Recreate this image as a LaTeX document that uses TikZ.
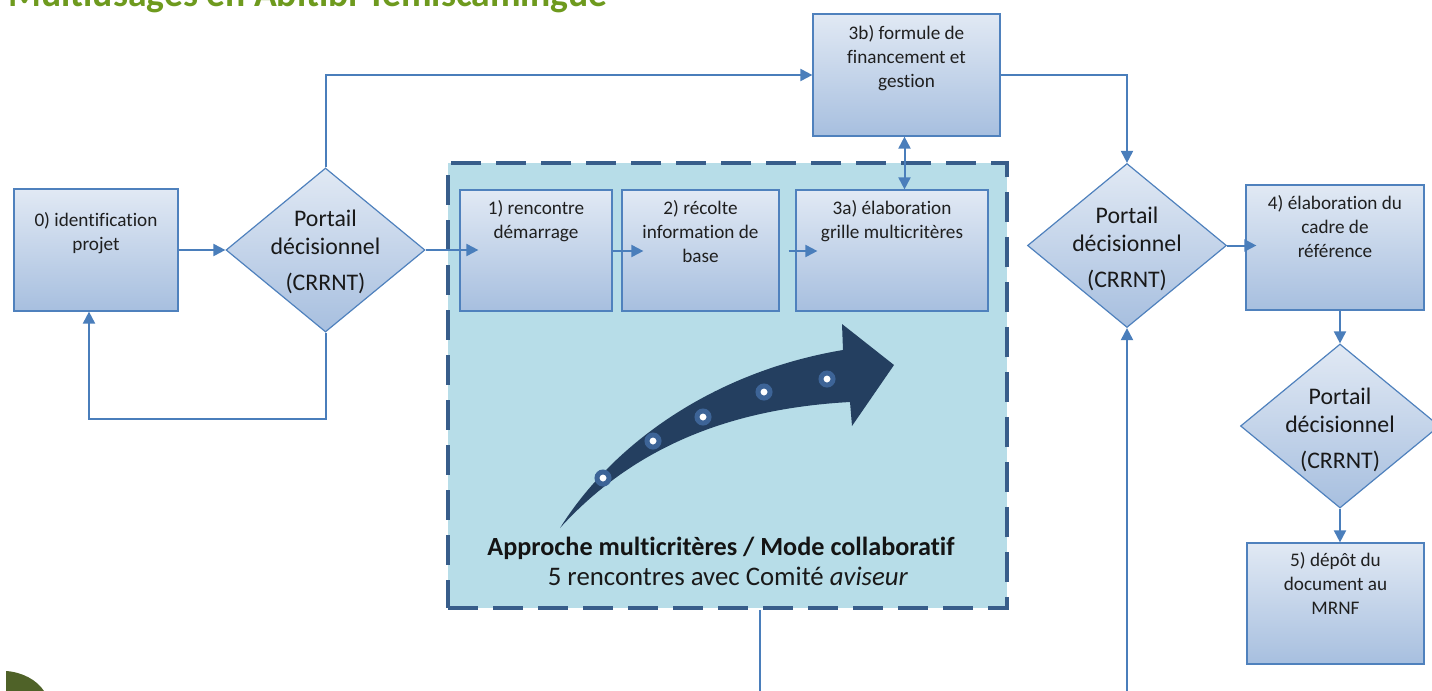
\documentclass[tikz,border=0pt]{standalone}
\usepackage{fontspec}
\setmainfont{Carlito}[Ligatures={NoCommon}]
\usetikzlibrary{arrows.meta,shapes.geometric,fit,calc}
\definecolor{boxtop}{HTML}{E1E9F4}
\definecolor{boxbot}{HTML}{A7BFDF}
\definecolor{boxline}{HTML}{4F81BD}
\definecolor{conncol}{HTML}{4A7EBB}
\definecolor{contfill}{HTML}{B7DDE8}
\definecolor{contline}{HTML}{385D8A}
\definecolor{navy}{HTML}{243F60}
\definecolor{dotring}{HTML}{3D6497}
\definecolor{titlegreen}{HTML}{6E9A1E}
\definecolor{leafgreen}{HTML}{4F6228}
\begin{document}
\begin{tikzpicture}[x=0.5pt,y=-0.5pt,
  box/.style={draw=boxline, line width=0.6pt, top color=boxtop, bottom color=boxbot, inner sep=0pt},
  gate/.style={diamond, draw=boxline, line width=0.6pt, top color=boxtop, bottom color=boxbot, inner sep=0pt, minimum width=99.5pt, minimum height=82pt},
  btxt/.style={anchor=base, align=center, font=\fontsize{9.6}{12}\selectfont, text=black!88, inner sep=0pt},
  gtxt/.style={anchor=base, align=center, font=\fontsize{11.9}{14.2}\selectfont, text=black!90, inner sep=0pt},
  conn/.style={draw=conncol, line width=1pt, -{Triangle[length=6pt,width=6pt]}},
  plain/.style={draw=conncol, line width=1pt},
  dotmark/.style={circle, fill=white, draw=dotring, line width=2.5pt, minimum size=6pt, inner sep=0pt}
]
\useasboundingbox (0,0) rectangle (1432,691);
% title (cut at top)
\node[anchor=base west, inner sep=0pt, text=titlegreen, font=\fontsize{18.8}{20}\selectfont\bfseries] (title) at (8,6) {Multiusages en Abitibi-Témiscamingue};
% leaf corner
\fill[leafgreen] (6,691) -- (6,671) .. controls (22,672) and (37,680) .. (44,691) -- cycle;

% container
\node[fit={(448,163) (1007,608)}, inner sep=0pt, fill=contfill, draw=contline, line width=2.2pt, dash pattern=on 15pt off 7.5pt] (cont) {};

% boxes
\node[box, fit={(14,189) (178,311)}] (b0) {};
\node[box, fit={(460,190) (612,311)}] (b1) {};
\node[box, fit={(622,190) (779,311)}] (b2) {};
\node[box, fit={(796,190) (988,311)}] (b3a) {};
\node[box, fit={(813,14) (1000,136)}] (b3b) {};
\node[box, fit={(1246,185) (1424,310)}] (b4) {};
\node[box, fit={(1247,543) (1424,664)}] (b5) {};

% (anchor=base is the baseline of the last line)
\node[btxt] (t0) at ($(b0.north)+(0,62)$) {0) identification\\projet};
\node[btxt] (t1) at ($(b1.north)+(0,49)$) {1) rencontre\\démarrage};
\node[btxt] (t2) at ($(b2.north)+(0,73)$) {2) récolte\\information de\\base};
\node[btxt] (t3a) at ($(b3a.north)+(0,49)$) {3a) élaboration\\grille multicritères};
\node[btxt] (t3b) at ($(b3b.north)+(0,74)$) {3b) formule de\\financement et\\gestion};
\node[btxt] (t4) at ($(b4.north)+(0,73)$) {4) élaboration du\\cadre de\\référence};
\node[btxt] (t5) at ($(b5.north)+(0,72)$) {5) dépôt du\\document au\\MRNF};

% gates
\node[gate] (d1) at (325.5,250) {};
\node[gate] (d2) at (1127,245.5) {};
\node[gate] (d3) at (1340,426) {};
\foreach \g/\dy in {d1/40, d2/41.5, d3/42}{
  \node[gtxt] at ($(\g.center)+(0,\dy)$) {Portail\\décisionnel\\[3.5pt](CRRNT)};
}

% curved arrow
\fill[navy] (560,528) .. controls (612,445) and (712,372) .. (843,350)
  -- (842,324) -- (894,365) -- (852,426) -- (850,402)
  .. controls (742,408) and (640,440) .. (560,528) -- cycle;
\foreach \px/\py [count=\i] in {603/478, 653/441, 703/417, 764/392, 827/379}{
  \node[dotmark] (dot\i) at (\px,\py) {};
}
\node[anchor=base, inner sep=0pt, font=\fontsize{13.1}{15}\selectfont\bfseries, text=black!92] (ap1) at (721,555) {Approche multicritères / Mode collaboratif};
\node[anchor=base, inner sep=0pt, font=\fontsize{13.4}{15}\selectfont, text=black!90] (ap2) at (728,585) {5 rencontres avec Comité \textit{aviseur}};

% helper coordinates
\coordinate (ay) at (0,251);
\coordinate (mx) at (904.5,0);
\coordinate (e1) at (760,691);
\coordinate (e2) at (1127,691);

% connectors
\draw[conn] (b0.east |- d1.west) -- (d1.west);
\draw[conn] (d1.south) -- ++(0,86) -| ($(b0.south)+(-7,0)$);
\draw[conn] (d1.north) |- (b3b.west);
\draw[conn] (d1.east) -- ($(d1.east -| b1.west)+(19,0)$);
\draw[conn] (b1.east |- ay) -- ($(b2.west |- ay)+(22,0)$);
\draw[conn] ($(b2.east |- ay)+(9,0)$) -- ($(b3a.west |- ay)+(22,0)$);
\draw[conn, {Triangle[length=6pt,width=6pt]}-{Triangle[length=6pt,width=6pt]}] (b3b.south -| mx) -- (b3a.north -| mx);
\draw[conn] (b3b.east) -| (d2.north);
\draw[conn] (d2.east) -- ($(d2.east -| b4.west)+(11,0)$);
\draw[conn] (b4.south -| d3.north) -- (d3.north);
\draw[conn] (d3.south) -- (d3.south |- b5.north);
\draw[plain] (cont.south -| e1) -- (e1);
\draw[conn] (e2) -- (d2.south);
\end{tikzpicture}
\end{document}
